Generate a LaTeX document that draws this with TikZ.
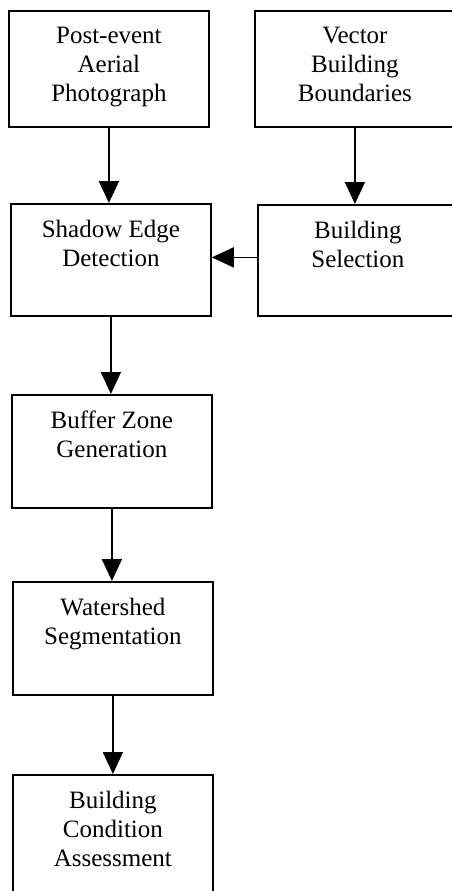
\documentclass[tikz,border=0pt]{standalone}
\usepackage{fontspec}
\setmainfont{Liberation Serif}
\usetikzlibrary{arrows.meta, positioning}

\begin{document}
\begin{tikzpicture}[x=1pt, y=1pt,
      stepbox/.style={draw, line width=1.8pt, minimum width=200pt, anchor=north west, inner sep=0pt},
      steptext/.style={anchor=north, align=center, inner sep=0pt, font=\fontsize{25}{28.75}\selectfont, yshift=-17pt},
      flow/.style={-{Triangle[length=22pt, width=20pt]}, line width=1.8pt}]
   \useasboundingbox (0,0) rectangle (452,-891);
   \clip (0,0) rectangle (452,-891);
   % Input boxes
   \node[stepbox, minimum height=116pt, label={[steptext]90:{Post-event\\Aerial\\Photograph}}] (photo) at (8,-10) {};
   \node[stepbox, minimum height=116pt, label={[steptext]90:{Vector\\Building\\Boundaries}}] (vector) at (254,-10) {};
   % Processing chain
   \node[stepbox, minimum height=112pt, label={[steptext]90:{Shadow Edge\\Detection}}] (shadow) at (10,-203) {};
   \node[stepbox, minimum height=111pt, label={[steptext]90:{Building\\Selection}}] (select) at (257,-204) {};
   \node[stepbox, minimum height=113pt, label={[steptext]90:{Buffer Zone\\Generation}}] (buffer) at (11,-394) {};
   \node[stepbox, minimum height=113pt, label={[steptext]90:{Watershed\\Segmentation}}] (water) at (12,-581) {};
   \node[stepbox, minimum height=125pt, label={[steptext]90:{Building\\Condition\\Assessment}}] (assess) at (12,-774) {};
   % Arrows
   \draw[flow] (photo.south) -- (photo.south |- shadow.north);
   \draw[flow] (vector.south) -- (vector.south |- select.north);
   \draw[flow] ([yshift=3pt]select.west) -- ([yshift=3pt]select.west -| shadow.east);
   \draw[flow] (shadow.south) -- (shadow.south |- buffer.north);
   \draw[flow] (buffer.south) -- (buffer.south |- water.north);
   \draw[flow] (water.south) -- (water.south |- assess.north);
\end{tikzpicture}
\end{document}
